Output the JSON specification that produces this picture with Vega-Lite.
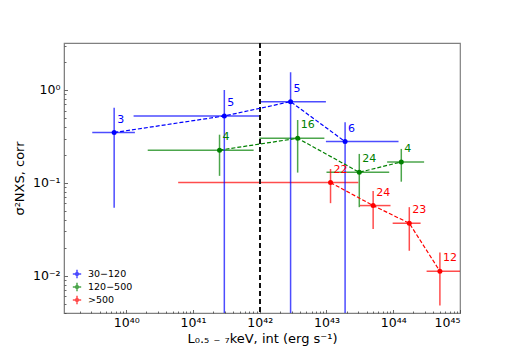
{
  "$schema": "https://vega.github.io/schema/vega-lite/v6.json",
  "width": 396,
  "height": 270,
  "autosize": {"type": "none"},
  "padding": {"left": 64, "top": 43, "right": 52, "bottom": 46},
  "background": "white",
  "config": {
    "font": "DejaVu Sans",
    "view": {"stroke": "#808080", "strokeWidth": 1.2},
    "axis": {"zindex": 1, "domainColor": "#808080", "tickColor": "#444444", "tickWidth": 0.8, "grid": false, "labelColor": "black", "titleColor": "black", "labelFont": "DejaVu Sans", "titleFont": "DejaVu Sans", "titleFontWeight": "normal"}
  },
  "data": {
    "values": [
      {"g": "30−120", "i": 1, "x": 6.6e39, "y": 0.348, "xlo": 3.1e39, "xhi": 1.35e40, "ylo": 0.054, "yhi": 0.645, "n": "3"},
      {"g": "30−120", "i": 2, "x": 2.95e41, "y": 0.525, "xlo": 1.29e40, "xhi": 9.8e41, "ylo": 0.001, "yhi": 1.0, "n": "5"},
      {"g": "30−120", "i": 3, "x": 2.9e42, "y": 0.748, "xlo": 9.9e41, "xhi": 9.8e42, "ylo": 0.001, "yhi": 1.55, "n": "5"},
      {"g": "30−120", "i": 4, "x": 1.9e43, "y": 0.278, "xlo": 9.8e42, "xhi": 1.2e44, "ylo": 0.001, "yhi": 0.45, "n": "6"},
      {"g": "120−500", "i": 1, "x": 2.5e41, "y": 0.225, "xlo": 2.1e40, "xhi": 8.1e41, "ylo": 0.119, "yhi": 0.33, "n": "4"},
      {"g": "120−500", "i": 2, "x": 3.7e42, "y": 0.302, "xlo": 9.9e41, "xhi": 9.3e42, "ylo": 0.129, "yhi": 0.475, "n": "16"},
      {"g": "120−500", "i": 3, "x": 3.1e43, "y": 0.130, "xlo": 1.0e43, "xhi": 8.7e43, "ylo": 0.0548, "yhi": 0.205, "n": "24"},
      {"g": "120−500", "i": 4, "x": 1.32e44, "y": 0.168, "xlo": 8.1e43, "xhi": 2.9e44, "ylo": 0.103, "yhi": 0.232, "n": "4"},
      {"g": ">500", "i": 1, "x": 1.15e43, "y": 0.1007, "xlo": 6.0e40, "xhi": 3.0e43, "ylo": 0.0605, "yhi": 0.141, "n": "22"},
      {"g": ">500", "i": 2, "x": 5.0e43, "y": 0.057, "xlo": 3.16e43, "xhi": 9.1e43, "ylo": 0.0318, "yhi": 0.082, "n": "24"},
      {"g": ">500", "i": 3, "x": 1.74e44, "y": 0.0368, "xlo": 9.8e43, "xhi": 2.57e44, "ylo": 0.0186, "yhi": 0.0548, "n": "23"},
      {"g": ">500", "i": 4, "x": 5.0e44, "y": 0.0112, "xlo": 3.16e44, "xhi": 1.0e45, "ylo": 0.0048, "yhi": 0.0178, "n": "12"}
    ]
  },
  "resolve": {"axis": {"x": "independent", "y": "independent"}},
  "layer": [
    {
      "mark": {"type": "rule", "strokeWidth": 1.5, "opacity": 0.7, "clip": true},
      "encoding": {
        "x": {"field": "xlo", "type": "quantitative", "scale": {"type": "log", "domain": [1.17e39, 1e45], "nice": false},
          "axis": {"values": [1e40, 1e41, 1e42, 1e43, 1e44, 1e45], "ticks": false, "labelPadding": 3, "labelFontSize": 12.5,
            "labelExpr": "datum.value >= 9e44 ? '10⁴⁵' : datum.value >= 9e43 ? '10⁴⁴' : datum.value >= 9e42 ? '10⁴³' : datum.value >= 9e41 ? '10⁴²' : datum.value >= 9e40 ? '10⁴¹' : '10⁴⁰'",
            "title": "L₀.₅ ₋ ₇keV, int (erg s⁻¹)", "titleFontSize": 13, "titlePadding": 4}},
        "x2": {"field": "xhi"},
        "y": {"field": "y", "type": "quantitative", "scale": {"type": "log", "domain": [0.00398, 3.2], "nice": false},
          "axis": {"values": [0.01, 0.1, 1], "ticks": false, "labelPadding": 4, "labelFontSize": 12.5,
            "labelExpr": "datum.value >= 0.9 ? '10⁰' : datum.value >= 0.09 ? '10⁻¹' : '10⁻²'",
            "title": "σ²NXS, corr", "titleFontSize": 13, "titlePadding": 6}},
        "color": {"field": "g", "type": "nominal", "scale": {"domain": ["30−120", "120−500", ">500"], "range": ["#0000ff", "#008000", "#ff0000"]},
          "legend": {"title": null, "orient": "bottom-left", "offset": 8, "padding": 0, "labelFontSize": 9.5, "labelOffset": 6, "symbolSize": 70, "clipHeight": 10, "symbolStrokeWidth": 1.5, "rowPadding": 3, "symbolOpacity": 1,
            "symbolType": "M-1,0H1M0,-1V1M0.35,0A0.35,0.35,0,1,1,-0.35,0A0.35,0.35,0,1,1,0.35,0Z"}}
      }
    },
    {
      "mark": {"type": "rule", "strokeWidth": 1.5, "opacity": 0.7, "clip": true},
      "encoding": {
        "x": {"field": "x", "type": "quantitative",
          "axis": {"orient": "top", "offset": -270, "values": [2e39, 3e39, 4e39, 5e39, 6e39, 7e39, 8e39, 9e39, 2e40, 3e40, 4e40, 5e40, 6e40, 7e40, 8e40, 9e40, 2e41, 3e41, 4e41, 5e41, 6e41, 7e41, 8e41, 9e41, 2e42, 3e42, 4e42, 5e42, 6e42, 7e42, 8e42, 9e42, 2e43, 3e43, 4e43, 5e43, 6e43, 7e43, 8e43, 9e43, 2e44, 3e44, 4e44, 5e44, 6e44, 7e44, 8e44, 9e44], "tickSize": 2, "labels": false, "title": null, "domain": false}},
        "y": {"field": "ylo", "type": "quantitative",
          "axis": {"orient": "right", "offset": -396, "values": [0.004, 0.005, 0.006, 0.007, 0.008, 0.009, 0.02, 0.03, 0.04, 0.05, 0.06, 0.07, 0.08, 0.09, 0.2, 0.3, 0.4, 0.5, 0.6, 0.7, 0.8, 0.9, 2, 3], "tickSize": 2, "labels": false, "title": null, "domain": false}},
        "y2": {"field": "yhi"},
        "color": {"field": "g", "type": "nominal"}
      }
    },
    {
      "mark": {"type": "rule", "color": "#111111", "strokeWidth": 1.3, "strokeDash": [5, 3]},
      "encoding": {"x": {"datum": 1e42, "axis": {"orient": "top", "offset": -270, "values": [1e40, 1e41, 1e42, 1e43, 1e44, 1e45], "tickSize": 3.5, "labels": false, "title": null, "domain": false}}}
    },
    {
      "mark": {"type": "line", "strokeWidth": 1.2, "strokeDash": [4, 2]},
      "encoding": {
        "x": {"field": "x", "type": "quantitative", "axis": null},
        "y": {"field": "y", "type": "quantitative", "axis": {"orient": "right", "offset": -396, "values": [0.01, 0.1, 1], "tickSize": 3.5, "labels": false, "title": null, "domain": false}},
        "order": {"field": "i"},
        "detail": {"field": "g"},
        "color": {"field": "g", "type": "nominal"}
      }
    },
    {
      "mark": {"type": "point", "filled": true, "opacity": 1, "size": 25},
      "encoding": {
        "x": {"field": "x", "type": "quantitative", "axis": null},
        "y": {"field": "y", "type": "quantitative", "axis": null},
        "color": {"field": "g", "type": "nominal"}
      }
    },
    {
      "mark": {"type": "text", "align": "left", "baseline": "middle", "dx": 3, "dy": -13, "fontSize": 11},
      "encoding": {
        "x": {"field": "x", "type": "quantitative", "axis": null},
        "y": {"field": "y", "type": "quantitative", "axis": null},
        "text": {"field": "n"},
        "color": {"field": "g", "type": "nominal"}
      }
    }
  ]
}
